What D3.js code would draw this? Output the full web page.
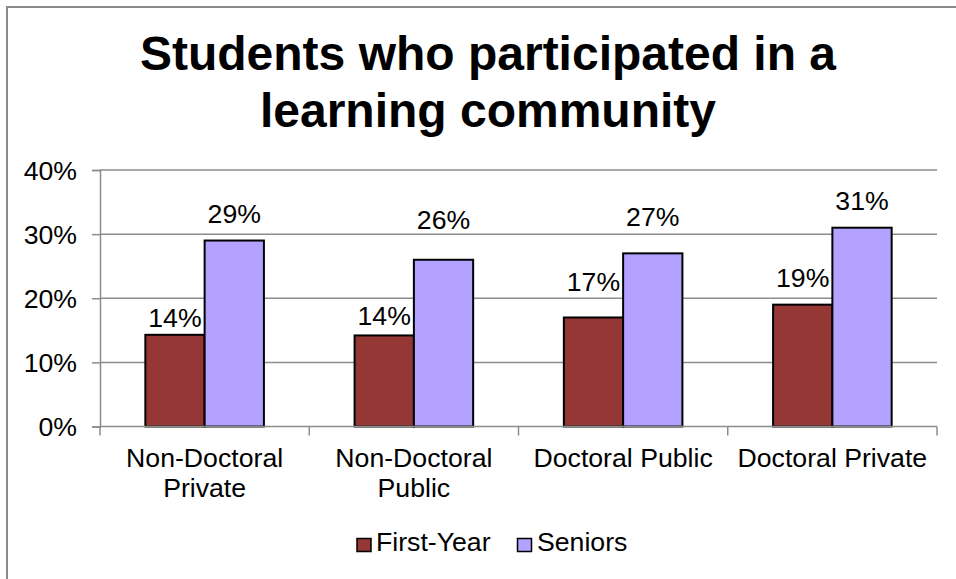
<!DOCTYPE html>
<html>
<head>
<meta charset="utf-8">
<script src="https://cdn.jsdelivr.net/npm/d3@7"></script>
<style>
  html, body { margin: 0; padding: 0; background: #fff; }
  svg { display: block; font-family: "Liberation Sans", Arial, sans-serif; }
</style>
</head>
<body>
<svg id="chart" width="956" height="579"></svg>
<script>
// ---- data ----
const categories = [["Non-Doctoral", "Private"], ["Non-Doctoral", "Public"], ["Doctoral Public"], ["Doctoral Private"]];
const seriesNames = ["First-Year", "Seniors"];
const firstYear = [14.3, 14.2, 17.0, 19.0];
const seniors = [29.0, 26.0, 27.0, 31.0];
const yTicks = [0, 10, 20, 30, 40];
const titleLines = ["Students who participated in a", "learning community"];

// ---- layout / style ----
const colors = ["#953735", "#b3a2ff"];
const labelLift = [[8, 10, 26, 18], [18, 31, 27, 18]]; // gap from bar top to label baseline
const W = 956, H = 579;
const plot = { left: 100, right: 937, top: 170, bottom: 426.5 };

const svg = d3.select("#chart");

// outer chart border (extends beyond the picture on right/bottom)
svg.append("rect").attr("x", 7).attr("y", 7).attr("width", 1000).attr("height", 700)
  .attr("fill", "none").attr("stroke", "#8a8a8a").attr("stroke-width", 2);

// title
svg.append("g").selectAll("text").data(titleLines).join("text")
  .attr("x", 488).attr("y", (d, i) => 70 + i * 57)
  .attr("text-anchor", "middle").attr("font-size", 48).attr("font-weight", "bold")
  .attr("fill", "#000").text(d => d);

const x0 = d3.scaleBand().domain(d3.range(categories.length))
  .range([plot.left, plot.right]).paddingInner(0).paddingOuter(0);
const x1 = d3.scaleBand().domain(d3.range(seriesNames.length))
  .range([0, x0.bandwidth()]).paddingInner(0).paddingOuter(0.765);
const y = d3.scaleLinear().domain([0, 40]).range([plot.bottom, plot.top]);

// gridlines
svg.append("g").selectAll("line").data(yTicks.filter(t => t > 0)).join("line")
  .attr("x1", plot.left).attr("x2", plot.right)
  .attr("y1", d => y(d)).attr("y2", d => y(d))
  .attr("stroke", "#8c8c8c").attr("stroke-width", 1.5);

// y axis
const yAxis = d3.axisLeft(y).tickValues(yTicks).tickFormat(d => d + "%").tickSize(8).tickPadding(15);
const gy = svg.append("g").attr("transform", `translate(${plot.left},0)`).call(yAxis);
gy.select(".domain").attr("stroke", "#8c8c8c").attr("stroke-width", 1.5);
gy.selectAll(".tick line").attr("stroke", "#8c8c8c").attr("stroke-width", 1.5);
gy.selectAll(".tick text").attr("font-size", 26.67).attr("fill", "#000")
  .attr("font-family", "Liberation Sans, Arial, sans-serif").attr("dy", "0.35em");

// bars
const series = [firstYear, seniors];
series.forEach((vals, s) => {
  svg.append("g").selectAll("rect").data(vals).join("rect")
    .attr("x", (d, i) => x0(i) + x1(s))
    .attr("y", d => y(d))
    .attr("width", x1.bandwidth())
    .attr("height", d => y(0) - y(d))
    .attr("fill", colors[s]).attr("stroke", "#000").attr("stroke-width", 2);
  svg.append("g").selectAll("text").data(vals).join("text")
    .attr("x", (d, i) => x0(i) + x1(s) + x1.bandwidth() / 2)
    .attr("y", (d, i) => y(d) - labelLift[s][i])
    .attr("text-anchor", "middle").attr("font-size", 26.67).attr("fill", "#000")
    .text(d => Math.round(d) + "%");
});

// x axis
const boundaries = d3.range(categories.length + 1).map(i => plot.left + i * x0.step());
svg.append("line").attr("x1", plot.left).attr("x2", plot.right)
  .attr("y1", y(0)).attr("y2", y(0)).attr("stroke", "#8c8c8c").attr("stroke-width", 1.5);
svg.append("g").selectAll("line").data(boundaries).join("line")
  .attr("x1", d => d).attr("x2", d => d)
  .attr("y1", y(0)).attr("y2", y(0) + 9)
  .attr("stroke", "#8c8c8c").attr("stroke-width", 1.5);
const catG = svg.append("g").selectAll("text").data(categories).join("text")
  .attr("x", (d, i) => x0(i) + x0.bandwidth() / 2)
  .attr("y", 467)
  .attr("text-anchor", "middle").attr("font-size", 26.67).attr("fill", "#000");
catG.selectAll("tspan").data(d => d).join("tspan")
  .attr("x", function () { return d3.select(this.parentNode).attr("x"); })
  .attr("dy", (d, i) => i === 0 ? 0 : 30)
  .text(d => d);

// legend
const legendItems = [{ name: seriesNames[0], sx: 357, tx: 376 }, { name: seriesNames[1], sx: 517.5, tx: 537 }];
const lg = svg.append("g");
legendItems.forEach((it, i) => {
  lg.append("rect").attr("x", it.sx).attr("y", 538.5).attr("width", 14).attr("height", 13)
    .attr("fill", colors[i]).attr("stroke", "#000").attr("stroke-width", 1.5);
  lg.append("text").attr("x", it.tx).attr("y", 551).attr("font-size", 26.67).attr("fill", "#000").text(it.name);
});
</script>
</body>
</html>
